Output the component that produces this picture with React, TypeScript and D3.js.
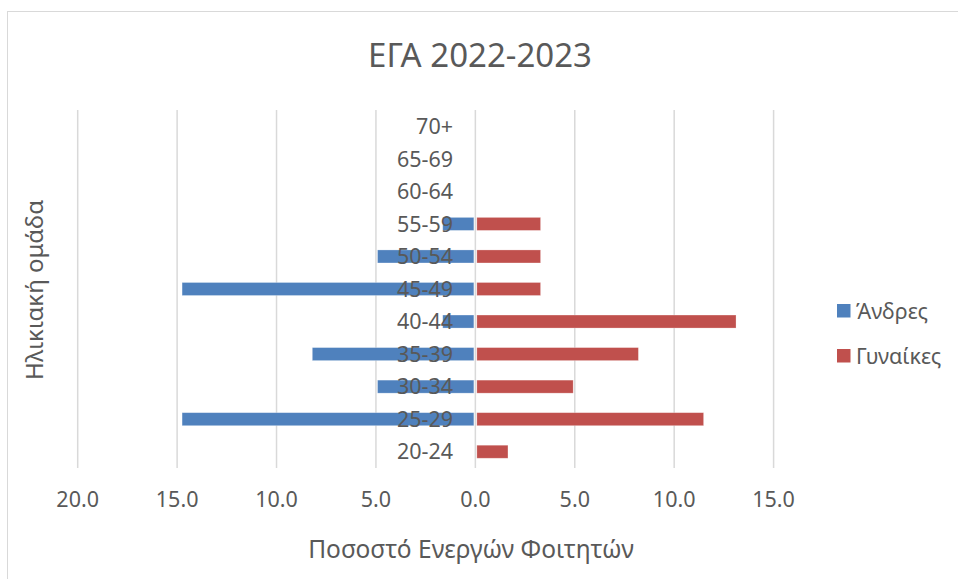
import React from "react";
import * as d3 from "d3";

const categories = ["20-24", "25-29", "30-34", "35-39", "40-44", "45-49", "50-54", "55-59", "60-64", "65-69", "70+"];
const men = [0, 14.75, 4.92, 8.2, 1.64, 14.75, 4.92, 1.64, 0, 0, 0];
const women = [1.64, 11.48, 4.92, 8.2, 13.11, 3.28, 3.28, 3.28, 0, 0, 0];
const xTicks = [-20, -15, -10, -5, 0, 5, 10, 15];
const seriesNames = ["Άνδρες", "Γυναίκες"];
const colors = ["#4F81BD", "#C0504D"];

const W = 958;
const H = 579;
const FONT = "'Noto Sans', 'Open Sans', sans-serif";
const TXT = "#595959";

export default function App() {
  const x = d3.scaleLinear().domain([-20, 15]).range([77.7, 773.6]);
  const y = d3.scaleBand<string>().domain([...categories].reverse()).range([110, 468]).padding(0);
  const bw = y.bandwidth() / 2.5;

  return (
    <svg width={W} height={H} style={{ position: "absolute", left: 0, top: 0, background: "#fff" }}>
      <rect x={7.5} y={11.5} width={960} height={600} fill="#fff" stroke="#d9d9d9" strokeWidth={1} />
      <text x={480} y={67} textAnchor="middle" fontFamily={FONT} fontSize={33} fill={TXT}>ΕΓΑ 2022-2023</text>
      {xTicks.map((t) => (
        <line key={"g" + t} x1={x(t)} x2={x(t)} y1={110} y2={468} stroke="#d9d9d9" strokeWidth={1.5} />
      ))}
      {categories.map((c, i) => {
        const yc = (y(c) as number) + y.bandwidth() / 2;
        return (
          <g key={c}>
            {men[i] > 0 && (
              <rect x={x(-men[i])} y={yc - bw / 2} width={x(0) - x(-men[i]) - 1.5} height={bw} fill={colors[0]} stroke="#fff" strokeOpacity={0.35} strokeWidth={0.75} />
            )}
            {women[i] > 0 && (
              <rect x={x(0) + 1.5} y={yc - bw / 2} width={x(women[i]) - x(0) - 1.5} height={bw} fill={colors[1]} stroke="#fff" strokeOpacity={0.35} strokeWidth={0.75} />
            )}
          </g>
        );
      })}
      {categories.map((c) => {
        const yc = (y(c) as number) + y.bandwidth() / 2;
        return (
          <text key={"l" + c} x={453} y={yc} dy="0.36em" textAnchor="end" fontFamily={FONT} fontSize={21.5} fill={TXT}>{c}</text>
        );
      })}
      {xTicks.map((t) => (
        <text key={"t" + t} x={x(t)} y={507} textAnchor="middle" fontFamily={FONT} fontSize={21.5} fill={TXT}>{Math.abs(t).toFixed(1)}</text>
      ))}
      <text x={471} y={558} textAnchor="middle" fontFamily={FONT} fontSize={24.5} fill={TXT}>Ποσοστό Ενεργών Φοιτητών</text>
      <text transform="translate(43,290) rotate(-90)" textAnchor="middle" fontFamily={FONT} fontSize={24} fill={TXT}>Ηλικιακή ομάδα</text>
      {seriesNames.map((s, i) => (
        <g key={s} transform={`translate(837,${304 + i * 45})`}>
          <rect width={13.5} height={13.5} fill={colors[i]} />
          <text x={19} y={7} dy="0.36em" fontFamily={FONT} fontSize={21.5} fill={TXT}>{s}</text>
        </g>
      ))}
    </svg>
  );
}
